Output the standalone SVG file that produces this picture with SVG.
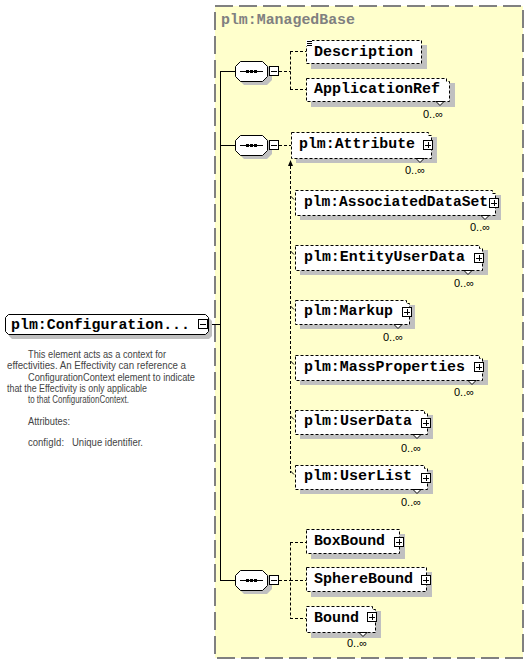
<svg xmlns="http://www.w3.org/2000/svg" width="530" height="665" viewBox="0 0 530 665">
<style>
.bg{fill:#ffffcc;stroke:#808080;stroke-width:2;stroke-dasharray:18 6}
.title{font-family:"Liberation Mono",monospace;font-weight:bold;font-size:14px;fill:#808080}
.box{fill:#fff;stroke:#000;stroke-width:1;stroke-dasharray:3 2}
.sbox{fill:#fff;stroke:#000;stroke-width:1}
.shadow{fill:#c0c0c0}
.name{font-family:"Liberation Mono",monospace;font-weight:bold;font-size:14px;fill:#000}
.occ{font-family:"Liberation Sans",sans-serif;font-size:11px;fill:#000}
.doc{font-family:"Liberation Sans",sans-serif;font-size:10px;fill:#444}
.solid{stroke:#000;fill:none;stroke-width:1}
.dash{stroke:#000;fill:none;stroke-width:1;stroke-dasharray:3 2}
.notch{fill:#fff;stroke:#000;stroke-width:1}
</style>
<defs>
<g id="minus"><rect x="0.5" y="0.5" width="9" height="9" fill="#fff" stroke="#000"/><path d="M2,5.5H8" stroke="#000"/></g>
<g id="plus"><rect x="0.5" y="0.5" width="9" height="9" fill="#fff" stroke="#000"/><path d="M2,5.5H8M5.5,2V8" stroke="#000"/></g>
<g id="seq">
<path class="shadow" d="M244,4H267L272,9V19L267,24H244L239,19V9Z"/>
<path class="sbox" d="M240.5,0.5H262.5L267.5,5.5V15.5L262.5,20.5H240.5L235.5,15.5V5.5Z"/>
<path d="M240,10.5H263" stroke="#000"/>
<rect x="246" y="9" width="3" height="3"/><rect x="250" y="9" width="3" height="3"/><rect x="254" y="9" width="3" height="3"/>
<use href="#minus" x="269" y="5"/>
</g>
</defs>

<rect class="bg" x="215" y="6" width="308" height="652"/>
<text class="title" x="221" y="24" textLength="134" lengthAdjust="spacingAndGlyphs">plm:ManagedBase</text>

<g id="connectors">
<path class="solid" d="M208,324.5H220.5M220.5,71V580.5M220,71.5H235M220,145.5H235M220,580.5H235"/>
<path class="dash" d="M279,71.5H290.5M290.5,51.5V89.5M290,51.5H306M290,89.5H306"/>
<path class="dash" d="M279,145.5H291M290.5,166V473"/>
<path class="solid" d="M290.5,196L294,199.5M290.5,251L294,254.5M290.5,306L294,309.5M290.5,361L294,364.5M290.5,416L294,419.5M290.5,471L294,474.5"/>
<polygon points="288,166 293,166 290.5,160" fill="#000"/>
<path class="solid" d="M291.5,157.5L295,154"/>
<polygon points="297,151 292.5,152.5 295.5,155.5" fill="#000"/>
<path class="dash" d="M279,580.5H290.5M290.5,542.5V618.5M290,542.5H306M290,580.5H306M290,618.5H306"/>
</g>

<g id="configuration">
<path class="shadow" d="M12,318H209L212,321V336L209,339H12L9,336V321Z"/>
<path class="sbox" d="M8.5,314.5H205.5L208.5,317.5V331.5L205.5,334.5H8.5L5.5,331.5V317.5Z"/>
<text class="name" x="11" y="329" textLength="179" lengthAdjust="spacingAndGlyphs">plm:Configuration...</text>
<use href="#minus" x="198" y="319"/>
<text class="doc" x="28" y="358" textLength="138" lengthAdjust="spacingAndGlyphs">This element acts as a context for</text>
<text class="doc" x="7" y="369" textLength="179" lengthAdjust="spacingAndGlyphs">effectivities. An Effectivity can reference a</text>
<text class="doc" x="28" y="381" textLength="167" lengthAdjust="spacingAndGlyphs">ConfigurationContext element to indicate</text>
<text class="doc" x="7" y="392" textLength="140" lengthAdjust="spacingAndGlyphs">that the Effectivity is only applicable</text>
<text class="doc" x="28" y="403" textLength="101" lengthAdjust="spacingAndGlyphs">to that ConfigurationContext.</text>
<text class="doc" x="28" y="425" textLength="42" lengthAdjust="spacingAndGlyphs">Attributes:</text>
<text class="doc" x="28" y="446" textLength="115" lengthAdjust="spacingAndGlyphs" xml:space="preserve">configId:   Unique identifier.</text>
</g>

<g id="seq1"><use href="#seq" x="0" y="61"/></g>
<g id="seq2"><use href="#seq" x="0" y="135"/></g>
<g id="seq3"><use href="#seq" x="0" y="570"/></g>

<g id="description">
<rect class="shadow" x="311" y="45" width="116" height="24"/>
<rect class="box" x="306.5" y="40.5" width="115" height="23"/>
<rect x="306" y="40" width="6" height="6" fill="#fff"/>
<path d="M307,41.5H312M307,43.5H312M307,45.5H312" stroke="#000"/>
<text class="name" x="314" y="56" textLength="99" lengthAdjust="spacingAndGlyphs">Description</text>
</g>

<g id="applicationref">
<rect class="shadow" x="311" y="83" width="144" height="24"/>
<path class="box" d="M306.5,78.5H446.5V81.5H449.5V101.5H306.5Z"/>
<polygon class="notch" points="436,101.5 440,105.5 444,101.5"/>
<text class="name" x="314" y="93" textLength="126" lengthAdjust="spacingAndGlyphs">ApplicationRef</text>
<text class="occ" x="423" y="118">0..∞</text>
</g>

<g id="attribute">
<rect class="shadow" x="296" y="137" width="141" height="26"/>
<path class="box" d="M291.5,132.5H428.5V135.5H431.5V158.5H291.5Z"/>
<polygon class="notch" points="416,158.5 420,162.5 424,158.5"/>
<text class="name" x="299" y="148" textLength="116" lengthAdjust="spacingAndGlyphs">plm:Attribute</text>
<use href="#plus" x="423" y="140"/>
<text class="occ" x="405" y="174">0..∞</text>
</g>

<g id="associateddataset">
<rect class="shadow" x="300" y="195" width="201" height="25"/>
<path class="box" d="M295.5,190.5H492.5V193.5H495.5V215.5H295.5Z"/>
<polygon class="notch" points="481,215.5 485,219.5 489,215.5"/>
<text class="name" x="304" y="206" textLength="184" lengthAdjust="spacingAndGlyphs">plm:AssociatedDataSet</text>
<use href="#plus" x="489" y="198"/>
<text class="occ" x="470" y="231">0..∞</text>
</g>

<g id="entityuserdata">
<rect class="shadow" x="300" y="250" width="188" height="25"/>
<path class="box" d="M295.5,245.5H479.5V248.5H482.5V270.5H295.5Z"/>
<polygon class="notch" points="464,270.5 468,274.5 472,270.5"/>
<text class="name" x="304" y="261" textLength="161" lengthAdjust="spacingAndGlyphs">plm:EntityUserData</text>
<use href="#plus" x="474" y="253"/>
<text class="occ" x="454" y="287">0..∞</text>
</g>

<g id="markup">
<rect class="shadow" x="300" y="305" width="115" height="24"/>
<path class="box" d="M295.5,300.5H406.5V303.5H409.5V324.5H295.5Z"/>
<polygon class="notch" points="394,324.5 398,328.5 402,324.5"/>
<text class="name" x="304" y="315" textLength="89" lengthAdjust="spacingAndGlyphs">plm:Markup</text>
<use href="#plus" x="402" y="307"/>
<text class="occ" x="383" y="341">0..∞</text>
</g>

<g id="massproperties">
<rect class="shadow" x="300" y="360" width="188" height="25"/>
<path class="box" d="M295.5,355.5H479.5V358.5H482.5V380.5H295.5Z"/>
<polygon class="notch" points="468,380.5 472,384.5 476,380.5"/>
<text class="name" x="304" y="371" textLength="161" lengthAdjust="spacingAndGlyphs">plm:MassProperties</text>
<use href="#plus" x="474" y="362"/>
<text class="occ" x="454" y="396">0..∞</text>
</g>

<g id="userdata">
<rect class="shadow" x="300" y="415" width="133" height="24"/>
<path class="box" d="M295.5,410.5H424.5V413.5H427.5V434.5H295.5Z"/>
<polygon class="notch" points="413,434.5 417,438.5 421,434.5"/>
<text class="name" x="304" y="425" textLength="108" lengthAdjust="spacingAndGlyphs">plm:UserData</text>
<use href="#plus" x="421" y="418"/>
<text class="occ" x="401" y="452">0..∞</text>
</g>

<g id="userlist">
<rect class="shadow" x="300" y="470" width="133" height="24"/>
<path class="box" d="M295.5,465.5H424.5V468.5H427.5V489.5H295.5Z"/>
<polygon class="notch" points="413,489.5 417,493.5 421,489.5"/>
<text class="name" x="304" y="480" textLength="108" lengthAdjust="spacingAndGlyphs">plm:UserList</text>
<use href="#plus" x="421" y="473"/>
<text class="occ" x="401" y="506">0..∞</text>
</g>

<g id="boxbound">
<rect class="shadow" x="311" y="534" width="94" height="25"/>
<rect class="box" x="306.5" y="529.5" width="93" height="24"/>
<text class="name" x="314" y="545" textLength="71" lengthAdjust="spacingAndGlyphs">BoxBound</text>
<use href="#plus" x="394" y="537"/>
</g>

<g id="spherebound">
<rect class="shadow" x="311" y="572" width="121" height="25"/>
<rect class="box" x="306.5" y="567.5" width="120" height="24"/>
<text class="name" x="314" y="583" textLength="99" lengthAdjust="spacingAndGlyphs">SphereBound</text>
<use href="#plus" x="421" y="575"/>
</g>

<g id="bound">
<rect class="shadow" x="311" y="611" width="70" height="27"/>
<path class="box" d="M306.5,606.5H372.5V609.5H375.5V632.5H306.5Z"/>
<polygon class="notch" points="359,632.5 363,636.5 367,632.5"/>
<text class="name" x="314" y="622" textLength="45" lengthAdjust="spacingAndGlyphs">Bound</text>
<use href="#plus" x="367" y="612"/>
<text class="occ" x="347" y="647">0..∞</text>
</g>
</svg>
